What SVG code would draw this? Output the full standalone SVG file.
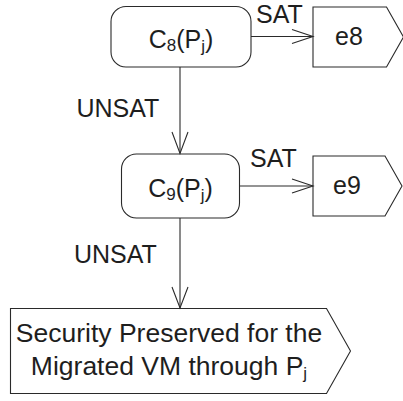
<svg xmlns="http://www.w3.org/2000/svg" width="403" height="401" viewBox="0 0 403 401">
  <style>
    .shape { fill: #ffffff; stroke: #2a2a2a; stroke-width: 1.1; }
    .wire { fill: none; stroke: #2a2a2a; stroke-width: 1.1; }
    text { font-family: "Liberation Sans", Arial, sans-serif; font-size: 25px; fill: #1e1e1e; }
    .big { font-size: 26.5px; }
    .sub { font-size: 17px; }
  </style>
  <rect width="403" height="401" fill="#ffffff"/>

  <g id="c8">
    <rect class="shape" x="111" y="6.5" width="140" height="60.5" rx="15" ry="15"/>
    <text x="181" y="48" text-anchor="middle">C<tspan class="sub" dy="3">8</tspan><tspan dy="-3">(P</tspan><tspan class="sub" dy="4">j</tspan><tspan dy="-4">)</tspan></text>
  </g>

  <g id="e8">
    <polygon class="shape" points="313,7 386.5,7 403.5,37 386.5,67 313,67"/>
    <text x="335" y="45">e8</text>
  </g>

  <g id="c9">
    <rect class="shape" x="121.5" y="154" width="118" height="64" rx="15" ry="15"/>
    <text x="180.5" y="196.7" text-anchor="middle">C<tspan class="sub" dy="3">9</tspan><tspan dy="-3">(P</tspan><tspan class="sub" dy="4">j</tspan><tspan dy="-4">)</tspan></text>
  </g>

  <g id="e9">
    <polygon class="shape" points="313,156 385,156 402,186 385,216 313,216"/>
    <text x="333" y="193.5">e9</text>
  </g>

  <g id="result">
    <polygon class="shape" points="10.5,308.5 326.5,308.5 350.5,351 326.5,393.5 10.5,393.5"/>
    <text class="big" x="169" y="341.7" text-anchor="middle">Security Preserved for the</text>
    <text class="big" x="169" y="374.5" text-anchor="middle">Migrated VM through P<tspan class="sub" dy="4">j</tspan></text>
  </g>

  <g id="edges">
    <!-- C8 -> C9 (UNSAT) -->
    <line class="wire" x1="180" y1="67" x2="180" y2="153.5"/>
    <polyline class="wire" points="172,132 180,153.5 188,132"/>
    <!-- C9 -> final (UNSAT) -->
    <line class="wire" x1="180" y1="218" x2="180" y2="308"/>
    <polyline class="wire" points="172,287 180,308 188,287"/>
    <!-- C8 -> e8 (SAT) -->
    <line class="wire" x1="251" y1="36.5" x2="313" y2="36.5"/>
    <polyline class="wire" points="292,29.5 313,36.5 292,43.5"/>
    <!-- C9 -> e9 (SAT) -->
    <line class="wire" x1="239.5" y1="186" x2="313" y2="186"/>
    <polyline class="wire" points="292,179 313,186 292,193"/>
    <text x="256" y="22.7">SAT</text>
    <text x="76.5" y="116.7">UNSAT</text>
    <text x="250" y="166.7">SAT</text>
    <text x="74" y="262.7">UNSAT</text>
  </g>
</svg>
